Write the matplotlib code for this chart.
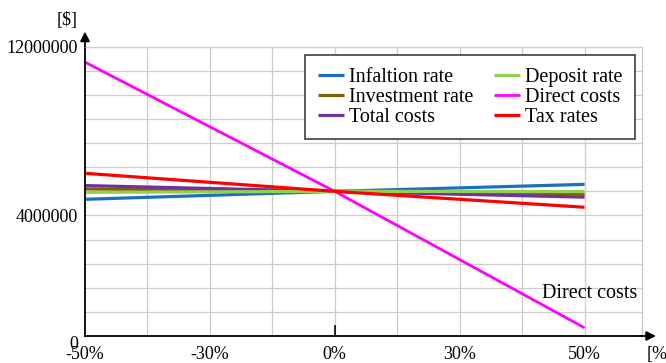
import matplotlib
matplotlib.use('Agg')
import matplotlib.pyplot as plt

# values, x in %, y in $
change = [-50, 0, 50]
inflation = [5670000, 6000000, 6290000]
investment = [6100000, 6000000, 5880000]
total_costs = [6240000, 6000000, 5760000]
deposit = [5960000, 6000000, 5990000]
direct_costs = [11360000, 6000000, 340000]
tax_rates = [6750000, 6000000, 5340000]

names = ['Infaltion rate', 'Investment rate', 'Total costs',
         'Deposit rate', 'Direct costs', 'Tax rates']
colors = ['#1a6fc0', '#7f6000', '#7030a0', '#92d050', '#ff00ff', '#ff0000']

xtick_pos = [-50, -25, 0, 25, 50]
xtick_labels = ['-50%', '-30%', '0%', '30%', '50%']
ytick_pos = [0, 5000000, 12000000]
ytick_labels = ['0', '4000000', '12000000']

plt.rcParams['font.family'] = ['Liberation Serif', 'DejaVu Serif']
plt.rcParams['font.size'] = 13

fig = plt.figure(figsize=(6.66, 3.63), dpi=100)
fig.set_facecolor('w')
ax = fig.add_axes([0.1276, 0.0744, 0.8364, 0.7969])

series = [inflation, investment, total_costs, deposit, direct_costs, tax_rates]
for vals, name, c in zip(series, names, colors):
    lw = 2.0 if name == 'Direct costs' else 2.3
    ax.plot(change, vals, color=c, lw=lw, label=name, solid_capstyle='butt')

ax.set_xlim(-50, 61.5)
ax.set_ylim(0, 12000000)

# grid
for gx in [-37.5, -25, -12.5, 0, 12.5, 25, 37.5, 50]:
    ax.axvline(gx, color='#cccccc', lw=0.9, zorder=0)
for gy in range(1000000, 12000001, 1000000):
    ax.axhline(gy, color='#cccccc', lw=0.9, zorder=0)

ax.spines['top'].set_color('#cccccc')
ax.spines['right'].set_color('#cccccc')
ax.spines['top'].set_linewidth(0.9)
ax.spines['right'].set_linewidth(0.9)
ax.spines['left'].set_linewidth(1.3)
ax.spines['bottom'].set_linewidth(1.3)

ax.set_xticks(xtick_pos)
ax.set_xticklabels(xtick_labels)
ax.set_yticks(ytick_pos)
ax.set_yticklabels(ytick_labels)
ax.tick_params(axis='both', length=0)
ax.tick_params(axis='x', pad=7)
ax.tick_params(axis='y', pad=5)
ax.get_yticklabels()[0].set_va('top')

# tick at 0 on x axis
ax.axvline(0, ymin=0, ymax=0.035, color='k', lw=1.2)

# axis arrows
ax.annotate('', xy=(0, 1.062), xytext=(0, 0.99), xycoords='axes fraction',
            arrowprops=dict(arrowstyle='-|>', color='k', lw=1.3, mutation_scale=14))
ax.annotate('', xy=(1.03, 0), xytext=(0.99, 0), xycoords='axes fraction',
            arrowprops=dict(arrowstyle='-|>', color='k', lw=1.3, mutation_scale=14))

fig.text(67 / 666, 1 - 21 / 363, '[$]', ha='center', va='center')
fig.text(647 / 666, 1 - 354 / 363, '[%', ha='left', va='center')

ax.text(51, 1750000, 'Direct costs', ha='center', va='center', fontsize=14.5)

leg = ax.legend(ncol=2, loc='upper right', bbox_to_anchor=(0.987, 0.971),
                fancybox=False, edgecolor='#404040', framealpha=1,
                fontsize=14.5, handlelength=1.3, handletextpad=0.25,
                columnspacing=1.0, labelspacing=0.05, borderpad=0.62,
                borderaxespad=0)
leg.get_frame().set_linewidth(1.2)

fig.savefig('out.png', dpi=100)
